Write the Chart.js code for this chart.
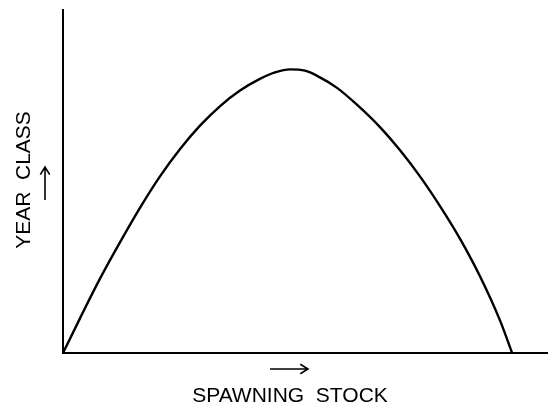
<!DOCTYPE html>
<html>
<head>
<meta charset="utf-8">
<title>Spawning stock and year class</title>
<script src="https://cdn.jsdelivr.net/npm/chart.js@4.4.0/dist/chart.umd.min.js"></script>
<style>
    html, body { margin: 0; padding: 0; background: #fff; }
    #chart { display: block; }
</style>
</head>
<body>
<canvas id="chart" width="548" height="405"></canvas>
<script>
// Curve (arbitrary units, 0-100 on both axes)
const stock = [0, 3.5, 7.6, 11.8, 15.9, 20.0, 24.1, 28.2, 32.4, 36.5, 40.6, 43.7,
               46.8, 49.9, 52.4, 56.5, 60.6, 65.4, 69.5, 73.6, 77.7, 81.9, 86.0, 90.1, 92.6];
const yearClass = [0, 10.1, 21.6, 32.4, 42.4, 51.5, 59.4, 66.2, 72.0, 76.5, 79.9, 81.8,
                   82.7, 82.3, 80.8, 77.3, 72.4, 65.8, 59.1, 51.5, 42.9, 33.2, 22.3, 9.5, 0];

const xTitle = 'SPAWNING  STOCK';
const yTitle = 'YEAR  CLASS';

/**
 * Draw a plain line arrow from (x1,y1) to (x2,y2)
 */
function drawArrow(ctx, x1, y1, x2, y2, head) {
    const a = Math.atan2(y2 - y1, x2 - x1);
    ctx.beginPath();
    ctx.moveTo(x1, y1);
    ctx.lineTo(x2, y2);
    ctx.moveTo(x2 - head * Math.cos(a - 0.55), y2 - head * Math.sin(a - 0.55));
    ctx.lineTo(x2, y2);
    ctx.lineTo(x2 - head * Math.cos(a + 0.55), y2 - head * Math.sin(a + 0.55));
    ctx.stroke();
}

// Axis captions with their arrows, placed off the chart area
const axisCaptions = {
    id: 'axisCaptions',
    afterDraw(chart) {
        const ctx = chart.ctx;
        const area = chart.chartArea;
        ctx.save();
        ctx.fillStyle = '#000';
        ctx.strokeStyle = '#000';
        ctx.lineWidth = 1.6;
        ctx.font = '21px "Liberation Sans", Arial, sans-serif';
        ctx.textAlign = 'center';
        ctx.textBaseline = 'middle';

        // x caption
        const cx = area.left + 227;
        ctx.fillText(xTitle, cx, area.bottom + 43);
        drawArrow(ctx, cx - 20, area.bottom + 16, cx + 18, area.bottom + 16, 9);

        // y caption, rotated
        const cy = area.top + 170;
        ctx.save();
        ctx.translate(area.left - 39, cy);
        ctx.rotate(-Math.PI / 2);
        ctx.fillText(yTitle, 0, 0);
        ctx.restore();
        drawArrow(ctx, area.left - 18, cy + 20, area.left - 18, cy - 13, 9);

        ctx.restore();
    }
};

new Chart(document.getElementById('chart'), {
    type: 'line',
    data: {
        datasets: [{
            data: stock.map((s, i) => ({ x: s, y: yearClass[i] })),
            borderColor: '#000',
            borderWidth: 2.4,
            pointRadius: 0,
            fill: false,
            cubicInterpolationMode: 'monotone'
        }]
    },
    options: {
        responsive: false,
        animation: false,
        devicePixelRatio: 1,
        layout: {
            padding: { left: 63, top: 10, right: 0, bottom: 52 }
        },
        plugins: {
            legend: { display: false },
            tooltip: { enabled: false }
        },
        scales: {
            x: {
                type: 'linear',
                min: 0,
                max: 100,
                grid: { display: false, drawTicks: false },
                ticks: { display: false },
                border: { display: true, color: '#000', width: 2 }
            },
            y: {
                type: 'linear',
                min: 0,
                max: 100,
                grid: { display: false, drawTicks: false },
                ticks: { display: false },
                border: { display: true, color: '#000', width: 2 }
            }
        }
    },
    plugins: [axisCaptions]
});
</script>
</body>
</html>
